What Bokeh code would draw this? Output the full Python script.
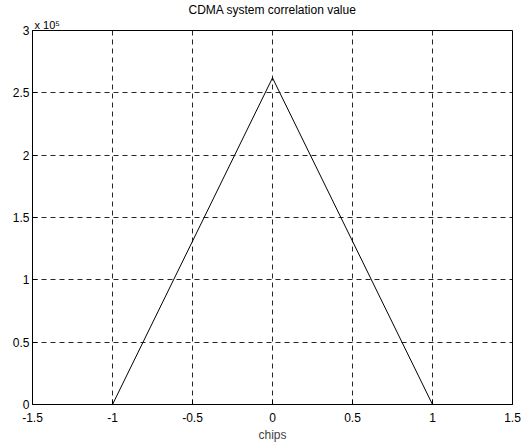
from bokeh.plotting import figure
from bokeh.models import Range1d, FixedTicker, Title
from bokeh.embed import file_html
from bokeh.resources import INLINE

# data
chips = [-1.5, -1.0, 0.0, 1.0, 1.5]
corr = [0.0, 0.0, 262000.0, 0.0, 0.0]

x_ticks = [-1.5, -1.0, -0.5, 0.0, 0.5, 1.0, 1.5]
x_tick_labels = ["-1.5", "-1", "-0.5", "0", "0.5", "1", "1.5"]
y_ticks = [0, 50000, 100000, 150000, 200000, 250000, 300000]
y_tick_labels = ["0", "0.5", "1", "1.5", "2", "2.5", "3"]
y_scale_text = "x 10\u2075"

FONT = "Liberation Sans"

p = figure(width=528, height=447, output_backend="svg", toolbar_location=None,
           x_range=Range1d(-1.5, 1.5), y_range=Range1d(0, 300000),
           min_border_left=32, min_border_right=16, min_border_top=30, min_border_bottom=43,
           title=None)

scale_title = Title(text=y_scale_text, align="left", text_font=FONT, text_font_size="11px",
                    text_font_style="normal", text_color="black", standoff=0, offset=2)
main_title = Title(text="CDMA system correlation value", align="center", text_font=FONT,
                   text_font_size="12px", text_font_style="normal", text_color="black",
                   standoff=0)
p.add_layout(scale_title, "above")
p.add_layout(main_title, "above")

p.line(chips, corr, line_color="black", line_width=1)

p.outline_line_color = "black"
p.outline_line_width = 1
p.outline_line_alpha = 1

for ax in [p.xaxis[0], p.yaxis[0]]:
    ax.axis_line_color = "black"
    ax.major_tick_in = 5
    ax.major_tick_out = 0
    ax.minor_tick_line_color = None
    ax.major_label_text_font = FONT
    ax.major_label_text_font_size = "12px"
    ax.major_label_text_color = "black"
    ax.major_label_standoff = 3

p.xaxis[0].ticker = FixedTicker(ticks=x_ticks)
p.xaxis[0].major_label_overrides = {t: l for t, l in zip(x_ticks, x_tick_labels)}
p.xaxis[0].major_label_standoff = 8
p.xaxis[0].axis_label = "chips"
p.xaxis[0].axis_label_text_font = FONT
p.xaxis[0].axis_label_text_font_size = "12px"
p.xaxis[0].axis_label_text_font_style = "normal"
p.xaxis[0].axis_label_standoff = 3

p.yaxis[0].ticker = FixedTicker(ticks=y_ticks)
p.yaxis[0].major_label_overrides = {t: l for t, l in zip(y_ticks, y_tick_labels)}

for g in [p.xgrid[0], p.ygrid[0]]:
    g.grid_line_color = "black"
    g.grid_line_dash = "5 4"
    g.grid_line_width = 1
    g.grid_line_alpha = 0.85
p.xgrid[0].ticker = FixedTicker(ticks=x_ticks)
p.ygrid[0].ticker = FixedTicker(ticks=y_ticks)

open("out.html", "w").write(file_html(p, INLINE))
